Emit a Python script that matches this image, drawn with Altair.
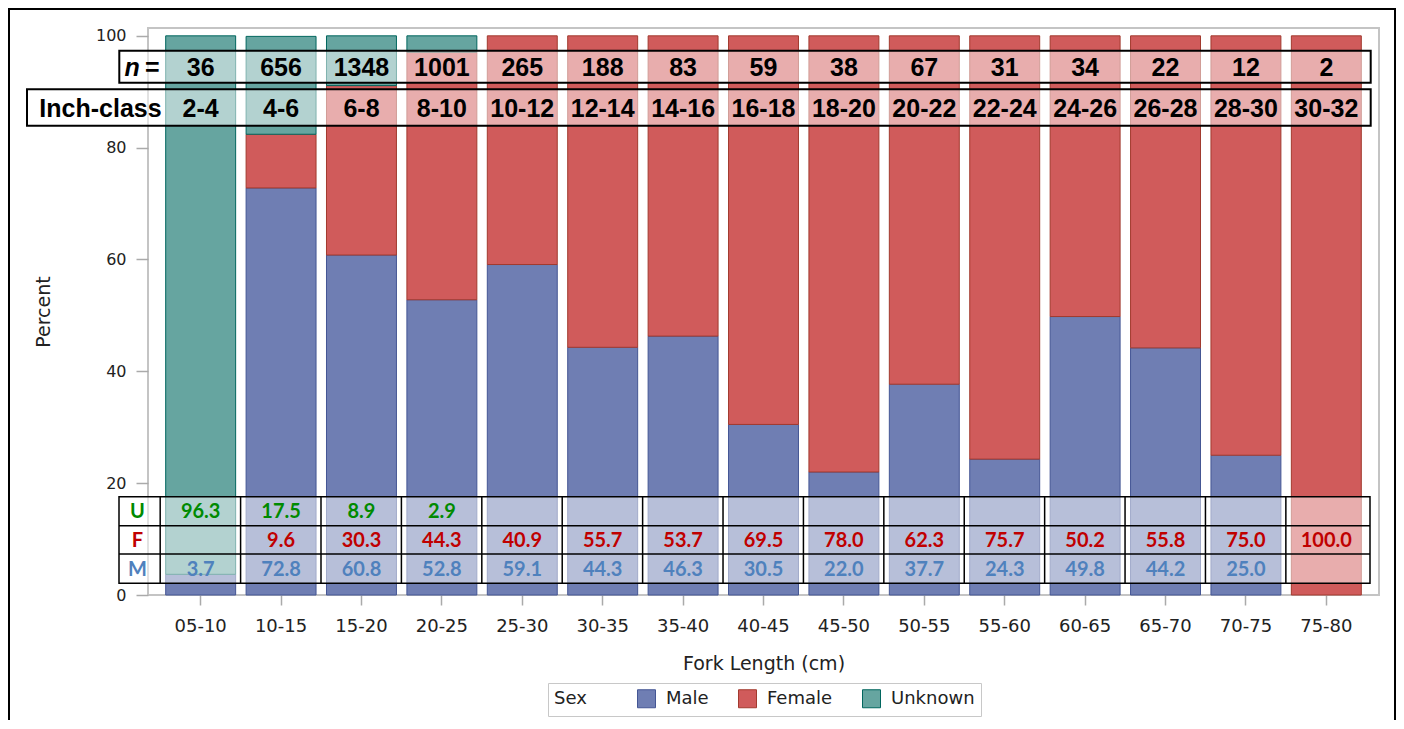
import altair as alt
import pandas as pd

# ---------------- data ----------------
cats = ["05-10", "10-15", "15-20", "20-25", "25-30", "30-35", "35-40", "40-45",
        "45-50", "50-55", "55-60", "60-65", "65-70", "70-75", "75-80"]
n_vals = [36, 656, 1348, 1001, 265, 188, 83, 59, 38, 67, 31, 34, 22, 12, 2]
inch_class = ["2-4", "4-6", "6-8", "8-10", "10-12", "12-14", "14-16", "16-18",
              "18-20", "20-22", "22-24", "24-26", "26-28", "28-30", "30-32"]
male = [3.7, 72.8, 60.8, 52.8, 59.1, 44.3, 46.3, 30.5, 22.0, 37.7, 24.3, 49.8, 44.2, 25.0, 0.0]
female = [0.0, 9.6, 30.3, 44.3, 40.9, 55.7, 53.7, 69.5, 78.0, 62.3, 75.7, 50.2, 55.8, 75.0, 100.0]
unknown = [96.3, 17.5, 8.9, 2.9, 0, 0, 0, 0, 0, 0, 0, 0, 0, 0, 0]
sexes = ["Male", "Female", "Unknown"]
y_ticks = [0, 20, 40, 60, 80, 100]

fill_colors = ["#6F7EB3", "#D05B5B", "#66A5A0"]
stroke_colors = ["#445694", "#A23A2E", "#01665E"]

# ---------------- tables ----------------
bar_rows = []
for i, c in enumerate(cats):
    for k, (s, vals) in enumerate(zip(sexes, [male, female, unknown])):
        bar_rows.append({"cat": c, "sex": s, "pct": vals[i], "ord": k})
bars_df = pd.DataFrame(bar_rows)

top_df = pd.DataFrame({"cat": cats, "n": [str(v) for v in n_vals], "inch": inch_class})

def fmt(vals):
    return [("%.1f" % v) if v > 0 else "" for v in vals]

tab_df = pd.DataFrame({"cat": cats, "U": fmt(unknown), "F": fmt(female), "M": fmt(male)})
one = pd.DataFrame({"k": [0]})

# ---------------- scales / axes ----------------
xscale = alt.Scale(domain=cats, paddingInner=0.13, paddingOuter=0.22)
xaxis = alt.Axis(labelAngle=0, labelFontSize=18, tickSize=10, labelPadding=12,
                 titleFontSize=19, titleY=59, titleBaseline="top")

def X(**kw):
    return alt.X("cat:N", scale=xscale, axis=xaxis, title="Fork Length (cm)", **kw)

yscale = alt.Scale(domain=[0, 101.4], nice=False, zero=True)
yaxis = alt.Axis(values=y_ticks, labelFontSize=16, tickSize=12, labelPadding=10,
                 grid=False, titleFontSize=19, titleX=-105, titleY=283.5,
                 titleAngle=270, titleAlign="center", titleBaseline="middle")

leg = alt.Legend(title="Sex", orient="none", legendX=400, legendY=655,
                 direction="horizontal", symbolType="square")

bars = alt.Chart(bars_df).transform_filter("datum.pct > 0").mark_bar(strokeWidth=1).encode(
    x=X(),
    y=alt.Y("pct:Q", stack="zero", scale=yscale, axis=yaxis, title="Percent"),
    fill=alt.Fill("sex:N", scale=alt.Scale(domain=sexes, range=fill_colors), legend=leg),
    stroke=alt.Stroke("sex:N", scale=alt.Scale(domain=sexes, range=stroke_colors), legend=leg),
    order=alt.Order("ord:Q", sort="ascending"),
)

# ---------------- top table ----------------
def box(x, x2, y, y2, sw=2):
    return alt.Chart(one).mark_rect(fill="white", fillOpacity=0.5, stroke="black",
                                    strokeWidth=sw).encode(
        x=alt.value(x), x2=alt.value(x2), y=alt.value(y), y2=alt.value(y2))

n_box = box(-28.7, 1222.7, 22.7, 54.7)
inch_box = box(-121, 1222.7, 61.3, 97.7)

top_font = dict(font="Liberation Sans", fontWeight="bold", fontSize=25, color="black",
                baseline="middle", align="center")

n_text = alt.Chart(top_df).mark_text(**top_font).encode(x=X(), y=alt.value(39.5), text="n:N")
inch_text = alt.Chart(top_df).mark_text(**top_font).encode(x=X(), y=alt.value(81), text="inch:N")

n_lab = alt.Chart(one).mark_text(text="n", fontStyle="italic", **top_font).encode(
    x=alt.value(-15.8), y=alt.value(39.5))
eq_lab = alt.Chart(one).mark_text(text="=", **top_font).encode(
    x=alt.value(4.3), y=alt.value(39.5))
inch_lab = alt.Chart(one).mark_text(text="Inch-class", **top_font).encode(
    x=alt.value(-47.5), y=alt.value(81))

# ---------------- bottom table ----------------
tab_box = box(-29, 1222, 468.7, 555.3, sw=1.5)
hline1 = alt.Chart(one).mark_rule(color="black", strokeWidth=1.5).encode(
    x=alt.value(-29), x2=alt.value(1222), y=alt.value(497.7))
hline2 = alt.Chart(one).mark_rule(color="black", strokeWidth=1.5).encode(
    x=alt.value(-29), x2=alt.value(1222), y=alt.value(526))
vlines = alt.Chart(top_df).mark_rule(color="black", strokeWidth=1.5, xOffset=-5.5).encode(
    x=X(bandPosition=0), y=alt.value(468.7), y2=alt.value(555.3))

row_specs = [("U", "#008A00", 483.2), ("F", "#C00000", 512), ("M", "#4F81BD", 540.7)]
tab_font = dict(font="Lato", fontWeight="bold", fontSize=20, baseline="middle", align="center")
tab_layers = []
for key, col, yy in row_specs:
    tab_layers.append(
        alt.Chart(tab_df).mark_text(color=col, **tab_font).encode(
            x=X(), y=alt.value(yy + 1), text=f"{key}:N"))
    tab_layers.append(
        alt.Chart(one).mark_text(text=key, color=col, **tab_font).encode(
            x=alt.value(-10.5), y=alt.value(yy + 1)))

# ---------------- outer frame ----------------
frame = alt.Chart(one).mark_rect(fill=None, fillOpacity=0, stroke="black", strokeWidth=2).encode(
    x=alt.value(-139), x2=alt.value(1247), y=alt.value(-19), y2=alt.value(740))

chart = alt.layer(
    bars, n_box, inch_box, n_text, inch_text, n_lab, eq_lab, inch_lab,
    tab_box, hline1, hline2, vlines, *tab_layers, frame
).properties(
    width=1231, height=567,
    autosize=alt.AutoSizeParams(type="none"),
    padding={"left": 140, "top": 20, "right": 17, "bottom": 125},
).configure_view(
    stroke="#c4c4c4", strokeWidth=2
).configure_axis(
    labelFont="DejaVu Sans", labelColor="#222222", titleFont="DejaVu Sans",
    titleColor="#222222", titleFontWeight="normal", tickColor="#aaaaaa",
    tickWidth=1.5, domain=False,
).configure_legend(
    strokeColor="#c8c8c8", fillColor="white", padding=6, titleOrient="left",
    titleFont="DejaVu Sans", titleFontSize=18, titleFontWeight="normal",
    titleColor="#222222", titlePadding=50, titleBaseline="middle",
    labelFont="DejaVu Sans", labelFontSize=18, labelColor="#222222",
    symbolSize=324, symbolStrokeWidth=1, columnPadding=27, labelOffset=10,
    labelLimit=300,
)

chart.save("out.html", embed_options={"renderer": "svg", "actions": False})
